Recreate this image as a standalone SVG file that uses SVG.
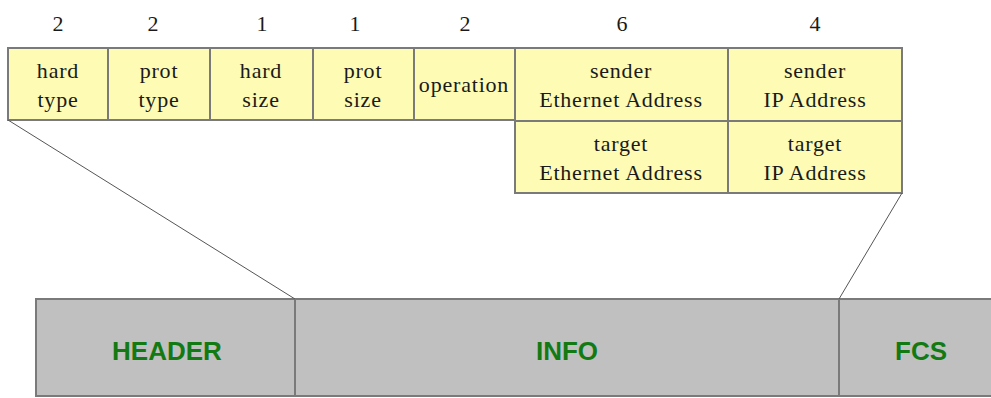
<svg xmlns="http://www.w3.org/2000/svg" width="991" height="398" viewBox="0 0 991 398">
<style>
.f{fill:#fdfbb4;stroke:#7a7a7a;stroke-width:2}
.b{fill:#c0c0c0;stroke:#7a7a7a;stroke-width:2}
.t{font-family:"Liberation Serif",serif;font-size:22px;letter-spacing:0.8px;fill:#1a1a1a;text-anchor:middle}
.n{font-family:"Liberation Serif",serif;font-size:22px;fill:#1a1a1a;text-anchor:middle}
.g{font-family:"Liberation Sans",sans-serif;font-size:26px;font-weight:bold;fill:#137a13;text-anchor:middle}
.c{stroke:#555;stroke-width:1;fill:none}
</style>
<rect width="991" height="398" fill="#fff"/>
<g id="sizes">
<text class="n" x="58" y="31">2</text>
<text class="n" x="153" y="31">2</text>
<text class="n" x="262" y="31">1</text>
<text class="n" x="355" y="31">1</text>
<text class="n" x="465" y="31">2</text>
<text class="n" x="622" y="31">6</text>
<text class="n" x="815" y="31">4</text>
</g>
<g id="hard-type"><rect class="f" x="8" y="48" width="100" height="72"/><text class="t" x="58" y="78">hard</text><text class="t" x="58" y="107">type</text></g>
<g id="prot-type"><rect class="f" x="108" y="48" width="102" height="72"/><text class="t" x="159" y="78">prot</text><text class="t" x="159" y="107">type</text></g>
<g id="hard-size"><rect class="f" x="210" y="48" width="103" height="72"/><text class="t" x="261" y="78">hard</text><text class="t" x="261" y="107">size</text></g>
<g id="prot-size"><rect class="f" x="313" y="48" width="101" height="72"/><text class="t" x="363" y="78">prot</text><text class="t" x="363" y="107">size</text></g>
<g id="operation"><rect class="f" x="414" y="48" width="101" height="72"/><text class="t" x="464" y="92">operation</text></g>
<g id="sender-eth"><rect class="f" x="515" y="48" width="213" height="73"/><text class="t" x="621" y="78">sender</text><text class="t" x="621" y="107">Ethernet Address</text></g>
<g id="sender-ip"><rect class="f" x="728" y="48" width="174" height="73"/><text class="t" x="815" y="78">sender</text><text class="t" x="815" y="107">IP Address</text></g>
<g id="target-eth"><rect class="f" x="515" y="121" width="213" height="72"/><text class="t" x="621" y="151">target</text><text class="t" x="621" y="180">Ethernet Address</text></g>
<g id="target-ip"><rect class="f" x="728" y="121" width="174" height="72"/><text class="t" x="815" y="151">target</text><text class="t" x="815" y="180">IP Address</text></g>
<g id="header"><rect class="b" x="36" y="299" width="259" height="97"/><text class="g" x="167" y="360">HEADER</text></g>
<g id="info"><rect class="b" x="295" y="299" width="544" height="97"/><text class="g" x="567" y="360">INFO</text></g>
<g id="fcs"><rect class="b" x="839" y="299" width="160" height="97"/><text class="g" x="921" y="360">FCS</text></g>
<g id="connectors">
<line class="c" x1="8" y1="120" x2="295" y2="299"/>
<line class="c" x1="902" y1="193" x2="839" y2="299"/>
</g>
</svg>
